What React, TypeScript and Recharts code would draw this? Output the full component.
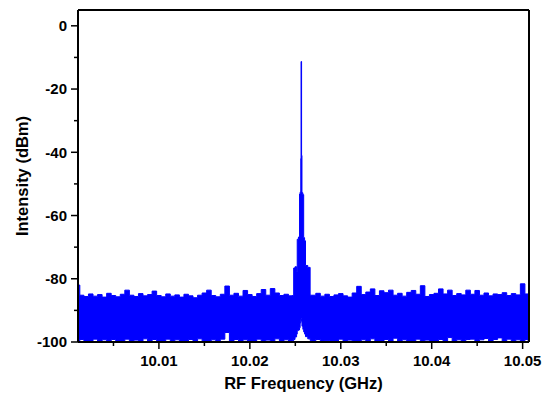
import { AreaChart, Area, XAxis, YAxis, ReferenceLine } from 'recharts'

// RF spectrum (GHz / dBm)
// upper = top of the trace, lower = bottom of the trace at each frequency
const FREQ_GHZ = [
  10.0011, 10.0015, 10.002, 10.0025, 10.003, 10.0035, 10.004, 10.0045, 10.005, 10.0055,
  10.006, 10.0065, 10.007, 10.0075, 10.008, 10.0085, 10.009, 10.0095, 10.01, 10.0105,
  10.011, 10.0115, 10.012, 10.0125, 10.013, 10.0135, 10.014, 10.0145, 10.015, 10.0155,
  10.016, 10.0165, 10.017, 10.0175, 10.018, 10.0185, 10.019, 10.0195, 10.02, 10.0205,
  10.021, 10.0215, 10.022, 10.0225, 10.023, 10.0235, 10.024, 10.0245,
  // carrier
  10.0248, 10.02484, 10.0251, 10.02518, 10.02524, 10.02545, 10.02548, 10.02558, 10.02562, 10.02564,
  10.02568, 10.0257, 10.02576, 10.0259, 10.02594, 10.0261, 10.02614, 10.0266, 10.02666,
  10.027, 10.0275, 10.028, 10.0285, 10.029, 10.0295, 10.03, 10.0305, 10.031, 10.0315,
  10.032, 10.0325, 10.033, 10.0335, 10.034, 10.0345, 10.035, 10.0355, 10.036, 10.0365,
  10.037, 10.0375, 10.038, 10.0385, 10.039, 10.0395, 10.04, 10.0405, 10.041, 10.0415,
  10.042, 10.0425, 10.043, 10.0435, 10.044, 10.0445, 10.045, 10.0455, 10.046, 10.0465,
  10.047, 10.0475, 10.048, 10.0485, 10.049, 10.0495, 10.05, 10.0505, 10.0507,
]

const UPPER_DBM = [
  -82.0, -85.2, -85.6, -84.8, -85.5, -85.0, -85.8, -84.6, -85.3, -85.7,
  -84.9, -83.6, -85.2, -85.6, -84.7, -85.4, -85.0, -83.9, -85.3, -85.7,
  -84.8, -85.5, -85.1, -85.8, -84.9, -85.4, -86.0, -85.2, -84.5, -83.6,
  -85.3, -85.7, -84.9, -82.3, -85.2, -84.6, -85.5, -83.7, -85.0, -85.6,
  -84.7, -83.4, -85.2, -83.1, -84.5, -85.3, -84.9, -85.4,
  -85.3, -76.6, -76.2, -77.8, -67.5, -66.8, -53.2, -52.6, -42.0, -11.3,
  -11.3, -41.0, -52.8, -53.4, -67.0, -68.0, -75.8, -76.4, -85.2,
  -85.2, -84.6, -85.5, -84.9, -85.6, -85.1, -84.7, -85.4, -85.8, -84.5,
  -82.4, -85.0, -84.2, -83.2, -85.3, -83.8, -84.4, -83.6, -85.2, -84.6,
  -85.5, -84.3, -83.7, -84.9, -82.2, -85.6, -85.0, -84.6, -83.2, -84.8,
  -83.6, -85.3, -84.7, -85.1, -83.6, -84.9, -83.7, -85.2, -84.5, -85.4,
  -84.8, -85.0, -84.4, -85.3, -84.7, -85.1, -81.6, -84.8, -85.0,
]

const LOWER_DBM = [
  -100, -99.2, -100, -100, -99.1, -100, -99.3, -100, -99.2, -100,
  -100, -99.1, -100, -99.4, -100, -99.0, -100, -99.2, -100, -100,
  -99.1, -100, -99.3, -100, -100, -99.2, -100, -99.0, -100, -100,
  -99.3, -100, -99.1, -97.0, -100, -99.2, -100, -99.3, -100, -100,
  -99.1, -100, -99.4, -100, -99.0, -100, -99.3, -100,
  -99.6, -99.2, -98.4, -97.5, -96.4, -96.2, -95.5, -94.0, -93.0, -92.6,
  -92.6, -93.5, -95.0, -96.0, -96.8, -97.5, -98.3, -99.0, -99.5,
  -100, -99.2, -100, -99.5, -100, -100, -99.1, -100, -99.4, -100,
  -100, -99.3, -100, -99.0, -100, -100, -99.2, -100, -98.8, -100,
  -99.3, -100, -100, -99.1, -100, -99.4, -100, -100, -99.2, -100,
  -98.6, -100, -99.3, -100, -99.2, -99.1, -100, -99.3, -98.9, -100,
  -99.2, -98.7, -100, -99.1, -100, -99.3, -100, -99.2, -100,
]

const X_DOMAIN = [10.0011, 10.0507]
const Y_DOMAIN = [-100, 5]
const X_TICKS = [10.005, 10.01, 10.015, 10.02, 10.025, 10.03, 10.035, 10.04, 10.045, 10.05]
const Y_TICKS = [-100, -90, -80, -70, -60, -50, -40, -30, -20, -10, 0]

const BLUE = '#0000ff'
const FONT = '"Liberation Sans", Arial, Helvetica, sans-serif'
const TICK_SIZE = 7
const X_GAP = 6
const Y_GAP = 4

const data = FREQ_GHZ.map((f, i) => ({ f, band: [LOWER_DBM[i], UPPER_DBM[i]] }))

function isMajorX(v: number) {
  return Math.abs(v * 100 - Math.round(v * 100)) < 1e-6
}

function XTick(props: any) {
  const { x, y, payload } = props
  const major = isMajorX(payload.value)
  const ay = y - TICK_SIZE - X_GAP
  return (
    <g>
      <line x1={x} x2={x} y1={ay} y2={ay + (major ? 7 : 4)} stroke="#000" strokeWidth={1.5} />
      {major && (
        <text x={x} y={y} dy="0.71em" textAnchor="middle" fontFamily={FONT} fontSize={15} fontWeight="bold" fill="#000">
          {payload.value.toFixed(2)}
        </text>
      )}
    </g>
  )
}

function YTick(props: any) {
  const { x, y, payload } = props
  const major = payload.value % 20 === 0
  const ax = x + TICK_SIZE + Y_GAP
  return (
    <g>
      <line x1={ax} x2={ax - (major ? 7 : 4)} y1={y} y2={y} stroke="#000" strokeWidth={1.5} />
      {major && (
        <text x={x} y={y} dy="0.36em" textAnchor="end" fontFamily={FONT} fontSize={15} fontWeight="bold" fill="#000">
          {payload.value}
        </text>
      )}
    </g>
  )
}

export default function App() {
  return (
    <div style={{ position: 'absolute', left: 0, top: 0, background: '#fff' }}>
      <AreaChart width={547} height={396} data={data} margin={{ top: 10, right: 18, bottom: 0, left: 0 }}>
        <XAxis
          dataKey="f"
          type="number"
          domain={X_DOMAIN}
          allowDataOverflow
          ticks={X_TICKS}
          interval={0}
          height={54}
          tickSize={TICK_SIZE}
          tickMargin={X_GAP}
          tickLine={false}
          tick={<XTick />}
          axisLine={{ stroke: '#000', strokeWidth: 2 }}
          label={{ value: 'RF Frequency (GHz)', position: 'insideBottom', offset: 7, fontSize: 16.5, fontWeight: 'bold', fill: '#000', fontFamily: FONT }}
        />
        <YAxis
          type="number"
          domain={Y_DOMAIN}
          allowDataOverflow
          ticks={Y_TICKS}
          interval={0}
          width={78}
          tickSize={TICK_SIZE}
          tickMargin={Y_GAP}
          tickLine={false}
          tick={<YTick />}
          axisLine={{ stroke: '#000', strokeWidth: 2 }}
          label={{ value: 'Intensity (dBm)', angle: -90, position: 'insideLeft', offset: 22, fontSize: 16.5, fontWeight: 'bold', fill: '#000', fontFamily: FONT, style: { textAnchor: 'middle' } }}
        />
        <Area
          type="step"
          dataKey="band"
          stroke={BLUE}
          strokeWidth={1}
          fill={BLUE}
          fillOpacity={1}
          dot={false}
          activeDot={false}
          isAnimationActive={false}
        />
        <ReferenceLine y={Y_DOMAIN[1]} stroke="#000" strokeWidth={2} />
        <ReferenceLine x={X_DOMAIN[1]} stroke="#000" strokeWidth={2} />
      </AreaChart>
    </div>
  )
}
